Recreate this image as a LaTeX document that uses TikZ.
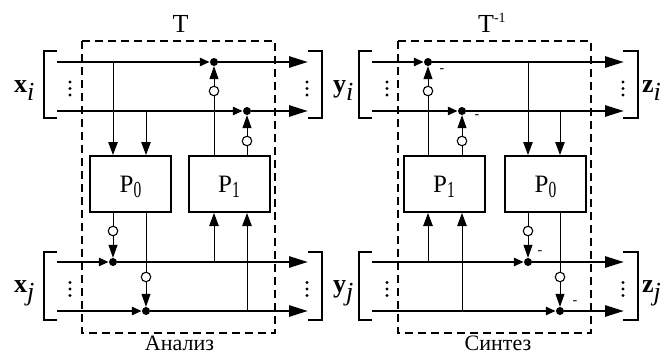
\documentclass[tikz,border=0pt]{standalone}
\usepackage{fontspec}
\setmainfont{Liberation Serif}
\usetikzlibrary{arrows.meta}
% block label with a narrow, lowered index
\newcommand\Pblk[1]{P\smash{\raisebox{-0.22em}{\scalebox{0.62}[0.92]{#1}}}}
\tikzset{
  bus/.style={line width=2.7pt},
  wire/.style={line width=1pt},
  endtip/.style={-{Triangle[length=19pt,width=11pt]}},
  intip/.style={-{Triangle[length=13pt,width=9.5pt]}},
  htip/.style={-{Triangle[length=10pt,width=8pt]}},
  jtip/.style={-{Triangle[length=13pt,width=9pt]}},
  junc/.style={circle,fill,inner sep=0pt,minimum size=8pt},
  inv/.style={circle,draw,line width=1.1pt,fill=white,inner sep=0pt,minimum size=9.5pt},
  blk/.style={draw,line width=2pt,minimum width=81pt,minimum height=56pt,inner sep=0pt,
              font=\fontsize{25}{25}\selectfont},
  frame/.style={draw,line width=1.3pt,dash pattern=on 8pt off 5pt},
  brk/.style={line width=1.6pt},
  lbl/.style={font=\fontsize{26}{26}\selectfont,inner sep=0pt,anchor=base west},
  caption/.style={font=\fontsize{22}{22}\selectfont,inner sep=0pt,anchor=base},
  sgn/.style={font=\fontsize{14}{14}\selectfont,inner sep=0pt},
}
\begin{document}
\begin{tikzpicture}[x=1pt,y=-1pt]
\useasboundingbox (0,0) rectangle (665,356);

% ---------------- frames and titles ----------------
\draw[frame] (82,41) rectangle (275,333);
\draw[frame] (398,41) rectangle (591,333);
\node[font=\fontsize{26}{26}\selectfont,inner sep=0pt,anchor=base] (tT) at (180.5,32) {T};
\node[lbl] (tTi) at (478,32) {T\raisebox{10pt}{\fontsize{14}{14}\selectfont -1}};
\node[caption] (cA) at (179.5,350) {Анализ};
\node[caption] (cS) at (498,350) {Синтез};

% ---------------- brackets ----------------
\foreach \xa/\xb/\ya/\yb in {44/57/51/118, 44/57/252/320, 359/372/51/118, 359/372/252/320}
  \draw[brk] (\xb,\ya) -- (\xa,\ya) -- (\xa,\yb) -- (\xb,\yb);
\foreach \xa/\xb/\ya/\yb in {322/308/51/118, 322/308/252/320, 638/623/51/118, 638/623/252/320}
  \draw[brk] (\xb,\ya) -- (\xa,\ya) -- (\xa,\yb) -- (\xb,\yb);

% vertical ellipsis inside the brackets
\foreach \x in {70,307,387,623}
  \foreach \yc in {88.5,289}
    \foreach \d in {-6.5,0,6.5}
      \fill (\x,\yc+\d) circle (1.6);

% vector labels
\node[lbl] (xi) at (14,92) {\textbf{x}$_{\textit{i}}$};
\node[lbl] (xj) at (14,292) {\textbf{x}$_{\textit{j}}$};
\node[lbl] (yi) at (333,92) {\textbf{y}$_{\textit{i}}$};
\node[lbl] (yj) at (333,292) {\textbf{y}$_{\textit{j}}$};
\node[lbl] (zi) at (642,92) {\textbf{z}$_{\textit{i}}$};
\node[lbl] (zj) at (642,292) {\textbf{z}$_{\textit{j}}$};

% ---------------- blocks ----------------
\node[blk] (LP0) at (130.5,184) {\Pblk{0}};
\node[blk] (LP1) at (229,184) {\Pblk{1}};
\node[blk] (RP1) at (444,184) {\Pblk{1}};
\node[blk] (RP0) at (545.5,184) {\Pblk{0}};

% ---------------- analysis half ----------------
\coordinate (LA1) at (57,62);   \coordinate (LB1) at (308,62);
\coordinate (LA2) at (57,111);  \coordinate (LB2) at (308,111);
\coordinate (LA3) at (57,262);  \coordinate (LB3) at (308,262);
\coordinate (LA4) at (57,311);  \coordinate (LB4) at (308,311);
\coordinate (LT1) at (113,62);  \coordinate (LT2) at (146,111);
\coordinate (LT3) at (214,262); \coordinate (LT4) at (247,311);

\node[junc] (LJ1) at (214,62) {};
\node[junc] (LJ2) at (247,111) {};
\node[junc] (LJ3) at (113,262) {};
\node[junc] (LJ4) at (146,311) {};
\node[inv] (LI1) at (214,91) {};
\node[inv] (LI2) at (247,141) {};
\node[inv] (LI3) at (113,231) {};
\node[inv] (LI4) at (146,277) {};

% buses
\draw[bus,htip] (LA1) -- (LJ1);  \draw[bus,endtip] (LJ1) -- (LB1);
\draw[bus,htip] (LA2) -- (LJ2);  \draw[bus,endtip] (LJ2) -- (LB2);
\draw[bus,htip] (LA3) -- (LJ3);  \draw[bus,endtip] (LJ3) -- (LB3);
\draw[bus,htip] (LA4) -- (LJ4);  \draw[bus,endtip] (LJ4) -- (LB4);

% P0 : inputs from xi, outputs to xj
\draw[wire,intip] (LT1) -- (LT1 |- LP0.north);
\draw[wire,intip] (LT2) -- (LT2 |- LP0.north);
\draw[wire] (LI3 |- LP0.south) -- (LI3);
\draw[wire,jtip] (LI3) -- (LJ3);
\draw[wire] (LI4 |- LP0.south) -- (LI4);
\draw[wire,jtip] (LI4) -- (LJ4);
% P1 : inputs from xj, outputs to xi
\draw[wire,intip] (LT3) -- (LT3 |- LP1.south);
\draw[wire,intip] (LT4) -- (LT4 |- LP1.south);
\draw[wire] (LI1 |- LP1.north) -- (LI1);
\draw[wire,jtip] (LI1) -- (LJ1);
\draw[wire] (LI2 |- LP1.north) -- (LI2);
\draw[wire,jtip] (LI2) -- (LJ2);

% ---------------- synthesis half ----------------
\coordinate (RA1) at (372,62);   \coordinate (RB1) at (624,62);
\coordinate (RA2) at (372,111);  \coordinate (RB2) at (624,111);
\coordinate (RA3) at (372,262);  \coordinate (RB3) at (624,262);
\coordinate (RA4) at (372,311);  \coordinate (RB4) at (624,311);
\coordinate (RT1) at (528,62);  \coordinate (RT2) at (560,111);
\coordinate (RT3) at (428,262); \coordinate (RT4) at (462,311);

\node[junc] (RJ1) at (428,62) {};
\node[junc] (RJ2) at (462,111) {};
\node[junc] (RJ3) at (528,262) {};
\node[junc] (RJ4) at (560,311) {};
\node[inv] (RI1) at (428,91) {};
\node[inv] (RI2) at (462,141) {};
\node[inv] (RI3) at (528,231) {};
\node[inv] (RI4) at (560,277) {};

\draw[bus,htip] (RA1) -- (RJ1);  \draw[bus,endtip] (RJ1) -- (RB1);
\draw[bus,htip] (RA2) -- (RJ2);  \draw[bus,endtip] (RJ2) -- (RB2);
\draw[bus,htip] (RA3) -- (RJ3);  \draw[bus,endtip] (RJ3) -- (RB3);
\draw[bus,htip] (RA4) -- (RJ4);  \draw[bus,endtip] (RJ4) -- (RB4);

% P1 : inputs from yj, subtracted from yi
\draw[wire,intip] (RT3) -- (RT3 |- RP1.south);
\draw[wire,intip] (RT4) -- (RT4 |- RP1.south);
\draw[wire] (RI1 |- RP1.north) -- (RI1);
\draw[wire,jtip] (RI1) -- (RJ1);
\draw[wire] (RI2 |- RP1.north) -- (RI2);
\draw[wire,jtip] (RI2) -- (RJ2);
% P0 : inputs from zi, subtracted from yj
\draw[wire,intip] (RT1) -- (RT1 |- RP0.north);
\draw[wire,intip] (RT2) -- (RT2 |- RP0.north);
\draw[wire] (RI3 |- RP0.south) -- (RI3);
\draw[wire,jtip] (RI3) -- (RJ3);
\draw[wire] (RI4 |- RP0.south) -- (RI4);
\draw[wire,jtip] (RI4) -- (RJ4);

% subtraction signs
\node[sgn] (m1) at (442,71) {-};
\node[sgn] (m2) at (477,117) {-};
\node[sgn] (m3) at (540,253) {-};
\node[sgn] (m4) at (575,303) {-};
\end{tikzpicture}
\end{document}
